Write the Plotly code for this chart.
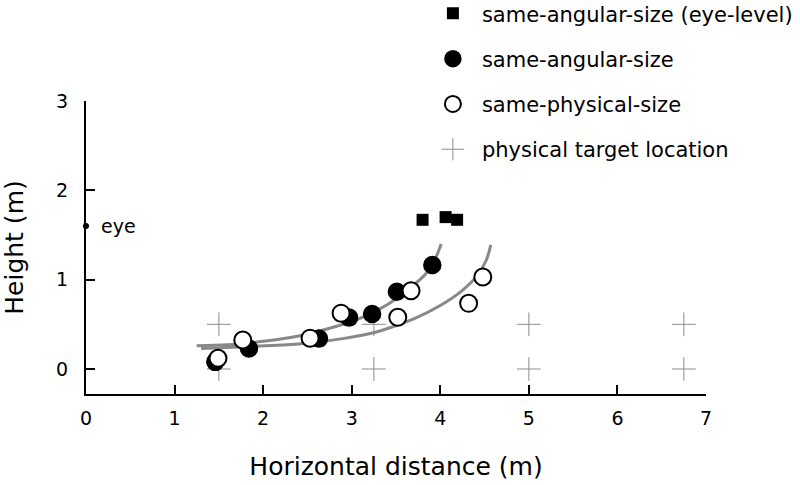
import plotly.graph_objects as go

# target grid (physical target locations)
target_x = [1.5, 1.5, 3.25, 3.25, 5.0, 5.0, 6.75, 6.75]
target_y = [0.0, 0.5, 0.0, 0.5, 0.0, 0.5, 0.0, 0.5]

# same-angular-size (eye-level)
eye_level_x = [3.80, 4.06, 4.19]
eye_level_y = [1.67, 1.70, 1.67]

# same-angular-size
angular_x = [1.46, 1.84, 2.63, 2.97, 3.23, 3.51, 3.91]
angular_y = [0.08, 0.23, 0.34, 0.575, 0.615, 0.865, 1.165]

# same-physical-size
physical_x = [1.49, 1.77, 2.53, 2.88, 3.52, 3.67, 4.32, 4.48]
physical_y = [0.12, 0.325, 0.345, 0.625, 0.58, 0.875, 0.735, 1.03]

# fitted curves
curve_angular_x = [1.25, 1.6, 2.0, 2.4, 2.8, 3.1, 3.4, 3.65, 3.85, 3.95, 4.01]
curve_angular_y = [0.26, 0.27, 0.31, 0.37, 0.47, 0.57, 0.72, 0.90, 1.08, 1.25, 1.40]
curve_physical_x = [1.3, 1.8, 2.4, 2.9, 3.3, 3.7, 4.0, 4.25, 4.42, 4.52, 4.57]
curve_physical_y = [0.23, 0.25, 0.28, 0.34, 0.42, 0.56, 0.71, 0.88, 1.05, 1.22, 1.39]

eye_x = [0.0]
eye_y = [1.6]
eye_label = "eye"

FONT = "DejaVu Sans"

fig = go.Figure()

fig.add_trace(go.Scatter(
    x=target_x, y=target_y, mode="markers",
    name="physical target location", legendrank=4,
    marker=dict(symbol="cross-thin-open", size=17, color="#8c8c8c",
                line=dict(color="#8c8c8c", width=1)),
))
for cx, cy in [(curve_angular_x, curve_angular_y), (curve_physical_x, curve_physical_y)]:
    fig.add_trace(go.Scatter(
        x=cx, y=cy, mode="lines", showlegend=False, hoverinfo="skip",
        line=dict(color="#888888", width=3, shape="spline"),
    ))
fig.add_trace(go.Scatter(
    x=angular_x, y=angular_y, mode="markers",
    name="same-angular-size", legendrank=2,
    marker=dict(symbol="circle", size=17, color="black",
                line=dict(color="black", width=1.5)),
))
fig.add_trace(go.Scatter(
    x=eye_level_x, y=eye_level_y, mode="markers",
    name="same-angular-size (eye-level)", legendrank=1,
    marker=dict(symbol="square", size=12, color="black", line=dict(width=0)),
))
fig.add_trace(go.Scatter(
    x=physical_x, y=physical_y, mode="markers",
    name="same-physical-size", legendrank=3,
    marker=dict(symbol="circle", size=17, color="white",
                line=dict(color="black", width=2)),
))
fig.add_trace(go.Scatter(
    x=eye_x, y=eye_y, mode="markers", showlegend=False, cliponaxis=False,
    marker=dict(color="black", size=6),
))
fig.add_annotation(
    x=eye_x[0], y=eye_y[0], text=eye_label, showarrow=False,
    xanchor="left", xshift=13,
    font=dict(family=FONT, size=19, color="black"),
)

for i, tr in enumerate(fig.data):
    tr.legendgroup = f"g{i}"

axis_common = dict(
    showline=True, linecolor="black", linewidth=2,
    ticks="inside", ticklen=9, tickwidth=2, tickcolor="black",
    showgrid=False, zeroline=False,
    tickfont=dict(family=FONT, size=19, color="black"),
)

fig.update_xaxes(
    range=[0, 7], dtick=1, ticklabelstandoff=6,
    title=dict(text="Horizontal distance (m)", standoff=30,
               font=dict(family=FONT, size=25, color="black")),
    **axis_common,
)
fig.update_yaxes(
    range=[-0.28, 3], dtick=1, ticklabelstandoff=12,
    title=dict(text="Height (m)", standoff=45,
               font=dict(family=FONT, size=25, color="black")),
    **axis_common,
)

fig.update_layout(
    width=800, height=485,
    margin=dict(l=86, r=94, t=101, b=91, autoexpand=False),
    plot_bgcolor="white", paper_bgcolor="white",
    font=dict(family=FONT, color="black"),
    legend=dict(
        x=0.545, xanchor="left", y=1.368, yanchor="top",
        font=dict(family=FONT, size=21, color="black"),
        bgcolor="rgba(0,0,0,0)", tracegroupgap=15, itemwidth=48,
    ),
)

# drop the default 8px page margin so the figure sits at the window corner
fig.write_html(
    "out.html",
    config={"displayModeBar": False},
    post_script="document.body.style.margin = '0px';",
)
